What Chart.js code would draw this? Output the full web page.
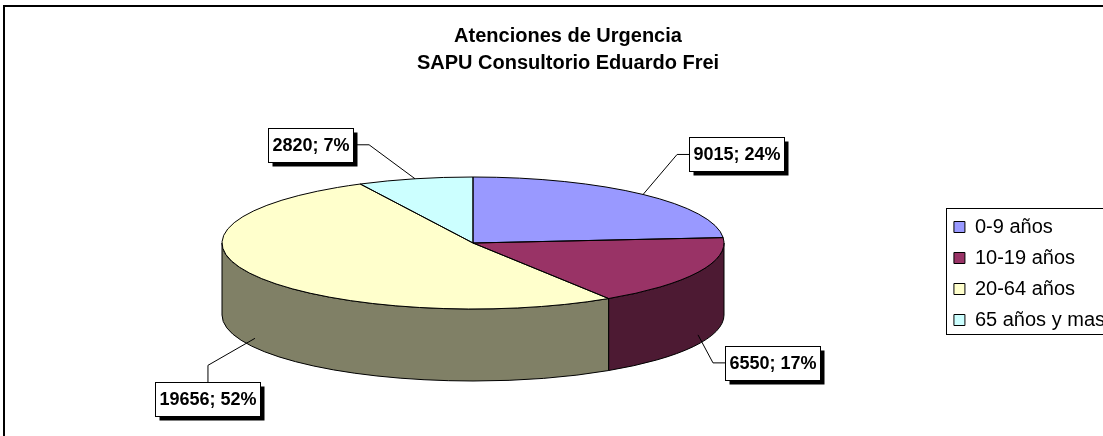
<!DOCTYPE html>
<html>
<head>
<meta charset="utf-8">
<script src="https://cdn.jsdelivr.net/npm/chart.js@4.4.1/dist/chart.umd.min.js"></script>
<style>
  html, body { margin: 0; padding: 0; background: #fff; overflow: hidden; }
</style>
</head>
<body>
<canvas id="chart" width="1136" height="470"></canvas>
<script>
var title = ['Atenciones de Urgencia', 'SAPU Consultorio Eduardo Frei']
var labels = ['0-9 años', '10-19 años', '20-64 años', '65 años y mas']
var values = [9015, 6550, 19656, 2820]
var colors = ['#9999FF', '#993366', '#FFFFCC', '#CCFFFF']

var FONT = '"Liberation Sans", Arial, sans-serif'

// where the tilted pie sits, and how the data labels hang off it
var pieGeom = { cx: 473, cy: 243, rx: 251, ry: 66, depth: 72 }
var leaders = [
  { dx: 34, dy: -40, side: 'right' }
, { dx: 15, dy: 28, side: 'right' }
, { dx: -47, dy: 27, side: 'below' }
, { dx: -46, dy: -34, side: 'left' }
]

function darken(hex) {
  var n = parseInt(hex.slice(1), 16)
  return 'rgb(' + Math.round(((n >> 16) & 255) / 2) + ','
    + Math.round(((n >> 8) & 255) / 2) + ',' + Math.round((n & 255) / 2) + ')'
}

function rim(a, down) {
  var g = pieGeom
  return { x: g.cx + g.rx * Math.cos(a), y: g.cy + g.ry * Math.sin(a) + (down || 0) }
}

var frame = {
  id: 'frame'
, beforeDraw: function (chart) {
    var ctx = chart.ctx
    ctx.save()
    ctx.strokeStyle = '#000'
    ctx.lineWidth = 2
    ctx.strokeRect(4, 6, chart.width - 8, chart.height - 10)
    ctx.restore()
  }
}

var pie3d = {
  id: 'pie3d'
, beforeDatasetsDraw: function (chart) {
    var ctx = chart.ctx, g = pieGeom
    var arcs = chart.getDatasetMeta(0).data
    // the visible rim of the disc: front half only
    arcs.forEach(function (arc, i) {
      var a0 = Math.max(arc.startAngle, 0), a1 = Math.min(arc.endAngle, Math.PI)
      if (a1 <= a0) return
      var p = rim(a1, g.depth)
      ctx.save()
      ctx.beginPath()
      ctx.ellipse(g.cx, g.cy, g.rx, g.ry, 0, a0, a1)
      ctx.lineTo(p.x, p.y)
      ctx.ellipse(g.cx, g.cy + g.depth, g.rx, g.ry, 0, a1, a0, true)
      ctx.closePath()
      ctx.fillStyle = darken(colors[i])
      ctx.fill()
      ctx.lineWidth = 1
      ctx.strokeStyle = '#000'
      ctx.stroke()
      ctx.restore()
    })
    // squash the library's round pie into the top face
    var a = arcs[0]
    ctx.save()
    ctx.translate(g.cx, g.cy)
    ctx.scale(g.rx / a.outerRadius, g.ry / a.outerRadius)
    ctx.translate(-a.x, -a.y)
  }
, afterDatasetsDraw: function (chart) {
    var ctx = chart.ctx, g = pieGeom
    ctx.restore()
    var arcs = chart.getDatasetMeta(0).data
    var total = values.reduce(function (s, v) { return s + v }, 0)

    ctx.save()
    ctx.strokeStyle = '#000'
    ctx.lineWidth = 1
    arcs.forEach(function (arc) {
      var p = rim(arc.startAngle)
      ctx.beginPath()
      ctx.moveTo(g.cx, g.cy)
      ctx.lineTo(p.x, p.y)
      ctx.ellipse(g.cx, g.cy, g.rx, g.ry, 0, arc.startAngle, arc.endAngle)
      ctx.closePath()
      ctx.stroke()
    })

    ctx.font = 'bold 18px ' + FONT
    ctx.textBaseline = 'middle'
    ctx.textAlign = 'center'
    arcs.forEach(function (arc, i) {
      var mid = (arc.startAngle + arc.endAngle) / 2
      var front = Math.sin(mid) > 0
      var start = rim(mid, front ? g.depth * 0.87 : 0)
      var L = leaders[i]
      var elbow = { x: start.x + L.dx, y: start.y + L.dy }
      var text = values[i] + '; ' + Math.round(values[i] / total * 100) + '%'
      var w = Math.round(ctx.measureText(text).width) + 8, h = 34
      var bx, by, end
      if (L.side === 'right') {
        bx = elbow.x + 12; by = elbow.y - h / 2; end = { x: bx, y: elbow.y }
      } else if (L.side === 'left') {
        bx = elbow.x - 16 - w; by = elbow.y - h / 2; end = { x: bx + w, y: elbow.y }
      } else {
        bx = elbow.x - w / 2; by = elbow.y + 17; end = { x: elbow.x, y: by }
      }
      bx = Math.round(bx) + 0.5; by = Math.round(by) + 0.5

      ctx.beginPath()
      ctx.moveTo(start.x, start.y)
      ctx.lineTo(elbow.x, elbow.y)
      ctx.lineTo(end.x, end.y)
      ctx.stroke()

      ctx.fillStyle = '#000'
      ctx.fillRect(bx + 4, by + 4, w, h)
      ctx.fillStyle = '#fff'
      ctx.fillRect(bx, by, w, h)
      ctx.strokeRect(bx, by, w, h)
      ctx.fillStyle = '#000'
      ctx.fillText(text, bx + w / 2, by + h / 2 + 1)
    })
    ctx.restore()
  }
}

var legendBox = {
  id: 'legendBox'
, afterDraw: function (chart) {
    var hb = chart.legend.legendHitBoxes
    if (!hb || !hb.length) return
    var ctx = chart.ctx
    var last = hb[hb.length - 1]
    var left = hb[0].left - 8, top = hb[0].top - 9
    ctx.save()
    ctx.strokeStyle = '#000'
    ctx.lineWidth = 1
    ctx.strokeRect(Math.round(left) + 0.5, Math.round(top) + 0.5,
      chart.width + 20 - left, last.top + last.height + 4 - top)
    ctx.restore()
  }
}

new Chart(document.getElementById('chart'), {
  type: 'pie'
, data: {
    labels: labels
  , datasets: [{ data: values, backgroundColor: colors, borderWidth: 0 }]
  }
, options: {
    responsive: false
  , animation: false
  , devicePixelRatio: 1
  , events: []
  , layout: { padding: { left: 21, right: 21, top: 0, bottom: 0 } }
  , plugins: {
      title: {
        display: true
      , text: title
      , color: '#000'
      , font: { family: FONT, size: 20, weight: 'bold', lineHeight: 1.35 }
      , padding: { top: 23, bottom: 0 }
      }
    , legend: {
        position: 'right'
      , fullSize: false
      , labels: {
          color: '#000'
        , font: { family: FONT, size: 20 }
        , boxWidth: 11
        , boxHeight: 11
        , padding: 11
        , generateLabels: function (chart) {
            var items = Chart.overrides.doughnut.plugins.legend.labels.generateLabels(chart)
            items.forEach(function (it) { it.strokeStyle = '#000'; it.lineWidth = 1 })
            return items
          }
        }
      }
    , tooltip: { enabled: false }
    }
  }
, plugins: [frame, pie3d, legendBox]
})
</script>
</body>
</html>
